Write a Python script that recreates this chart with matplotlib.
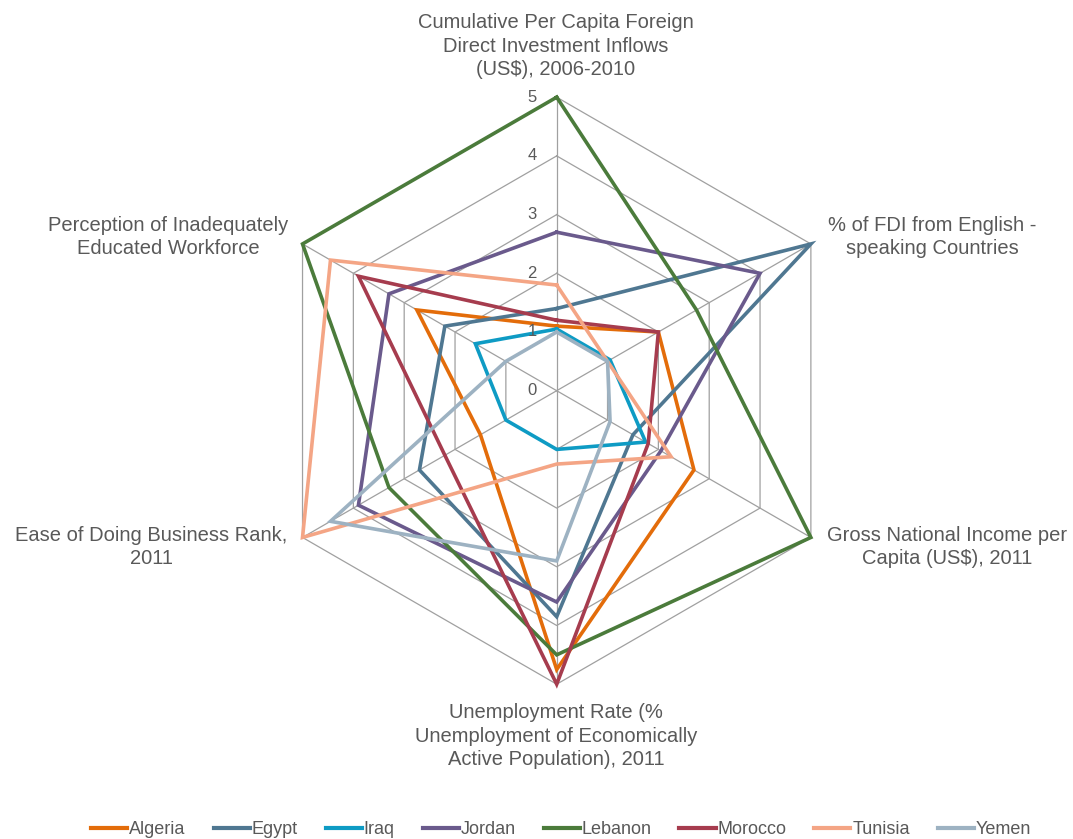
import numpy as np
import matplotlib
matplotlib.use("Agg")
import matplotlib.pyplot as plt

# axis labels, clockwise from the top
axis_labels = [
    "Cumulative Per Capita Foreign\nDirect Investment Inflows\n(US$), 2006-2010",
    "% of FDI from English -\nspeaking Countries",
    "Gross National Income per\nCapita (US$), 2011",
    "Unemployment Rate (%\nUnemployment of Economically\nActive Population), 2011",
    "Ease of Doing Business Rank,\n2011",
    "Perception of Inadequately\nEducated Workforce",
]

countries = ["Algeria", "Egypt", "Iraq", "Jordan", "Lebanon", "Morocco", "Tunisia", "Yemen"]

algeria = [1.1, 2.0, 2.7, 4.75, 1.5, 2.75]
egypt = [1.4, 5.0, 1.5, 3.85, 2.7, 2.2]
iraq = [1.05, 1.05, 1.75, 1.0, 1.0, 1.6]
jordan = [2.7, 4.0, 2.05, 3.6, 3.9, 3.3]
lebanon = [5.0, 2.75, 5.0, 4.5, 3.3, 5.0]
morocco = [1.2, 2.0, 1.8, 5.0, 2.2, 3.9]
tunisia = [1.8, 1.0, 2.25, 1.25, 5.0, 4.45]
yemen = [1.0, 1.0, 1.05, 2.9, 4.45, 1.0]

series = [algeria, egypt, iraq, jordan, lebanon, morocco, tunisia, yemen]
colors = ["#E36C0A", "#4F7791", "#0E9BC4", "#6A5A8C", "#4B7B3B", "#A63C4E", "#F4A585", "#9DB2C2"]

ticks = [0, 1, 2, 3, 4, 5]

# figure layout: centre of the radar at (556.7, 390.7) px, 58.7 px per unit
W, H = 1073, 839
cx, cy, unit = 556.7, 390.7, 58.7

fig = plt.figure(figsize=(W / 100, H / 100), dpi=100)
ax = fig.add_axes([0, 0, 1, 1])
ax.set_xlim(-cx / unit, (W - cx) / unit)
ax.set_ylim((cy - H) / unit, cy / unit)
ax.set_aspect("equal")
ax.axis("off")

angles = np.deg2rad(90 - 60 * np.arange(6))


def to_xy(vals):
    v = np.asarray(vals, dtype=float)
    x = v * np.cos(angles)
    y = v * np.sin(angles)
    return np.append(x, x[0]), np.append(y, y[0])


# hexagonal grid
grid_col = "#A0A0A0"
for r in ticks[1:]:
    gx, gy = to_xy([r] * 6)
    ax.plot(gx, gy, color=grid_col, lw=0.9, zorder=1)
for a in angles:
    ax.plot([0, 5 * np.cos(a)], [0, 5 * np.sin(a)], color=grid_col, lw=0.9, zorder=1)

# radial tick labels
for r in ticks:
    ax.text(-0.42, r, str(r), ha="center", va="center", fontsize=12,
            color="#595959", family=["Liberation Sans", "DejaVu Sans"])

# series
for name, vals, c in zip(countries, series, colors):
    sx, sy = to_xy(vals)
    ax.plot(sx, sy, color=c, lw=2.6, label=name, zorder=2, solid_joinstyle="miter")

# axis labels (pixel positions converted to data units)
label_pos = [(556, 46), (932, 237), (947, 547), (556, 736), (151, 547), (168, 237)]
for txt, (px, py) in zip(axis_labels, label_pos):
    ax.text((px - cx) / unit, (cy - py) / unit, txt, ha="center", va="center",
            fontsize=14.5, color="#595959", linespacing=1.3,
            family=["Liberation Sans", "DejaVu Sans"])

leg = fig.legend(loc="lower center", ncol=8, frameon=False, bbox_to_anchor=(0.523, -0.018),
                 handlelength=2.0, handletextpad=0.1, columnspacing=1.55,
                 prop={"family": ["Liberation Sans Narrow", "Liberation Sans"], "size": 13})
for t in leg.get_texts():
    t.set_color("#595959")
for h in leg.legend_handles:
    h.set_linewidth(3)

fig.savefig("out.png", dpi=100)
